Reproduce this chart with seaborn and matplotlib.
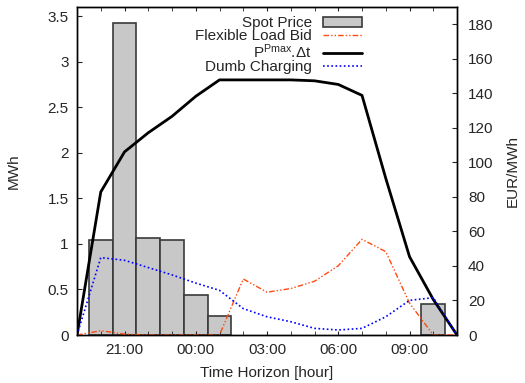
import matplotlib
matplotlib.use("Agg")
import matplotlib.pyplot as plt
import seaborn as sns
import pandas as pd
from matplotlib.patches import Patch
from matplotlib.lines import Line2D

# hours since 19:00
hours = list(range(17))
tick_pos = [2, 5, 8, 11, 14]
tick_labels = ["21:00", "00:00", "03:00", "06:00", "09:00"]

# spot price bars (EUR/MWh)
price_hours = [1, 2, 3, 4, 5, 6, 15]
spot_price = [54.8, 180.8, 56.2, 54.8, 23.3, 11.2, 18.0]

# MWh series
flex_bid = [0, 0.047, 0.01, 0, 0, 0, 0, 0.615, 0.47, 0.51, 0.59, 0.76, 1.05, 0.915, 0.35, 0, 0]
p_max = [0, 1.57, 2.01, 2.22, 2.40, 2.62, 2.80, 2.80, 2.80, 2.80, 2.79, 2.75, 2.63, 1.72, 0.86, 0.39, 0]
dumb = [0, 0.85, 0.82, 0.74, 0.66, 0.57, 0.49, 0.29, 0.20, 0.146, 0.073, 0.055, 0.073, 0.20, 0.38, 0.41, 0]

sns.set_style("ticks")
plt.rcParams['font.family'] = ['Liberation Sans', 'DejaVu Sans']
plt.rcParams['font.size'] = 11
plt.rcParams['mathtext.fontset'] = 'custom'
plt.rcParams['mathtext.rm'] = 'Liberation Sans'
plt.rcParams['mathtext.it'] = 'Liberation Sans'

fig = plt.figure(figsize=(5.25, 3.83), dpi=100)
ax = fig.add_axes([0.1467, 0.1253, 0.8705 - 0.1467, 0.9817 - 0.1253])
ax2 = ax.twinx()

bars = pd.DataFrame({'h': price_hours, 'price': spot_price})
sns.barplot(data=bars, x='h', y='price', native_scale=True, width=1.0,
            color='#c8c8c8', saturation=1, edgecolor='#3a3a3a', linewidth=1.2, ax=ax2)

sns.lineplot(x=hours, y=flex_bid, ax=ax, color='#ff4a10', lw=1.0,
             linestyle=(0, (4, 1.5, 1, 1.5, 1, 1.5)))
sns.lineplot(x=hours, y=p_max, ax=ax, color='black', lw=2.0)
sns.lineplot(x=hours, y=dumb, ax=ax, color='blue', lw=1.2, linestyle=(0, (1, 1.5)))

ax.set_zorder(ax2.get_zorder() + 1)
ax.patch.set_visible(False)

ax.set_xlim(0, 16)
ax.set_ylim(0, 3.6)
ax2.set_ylim(0, 190)
ax.set_yticks([0, 0.5, 1, 1.5, 2, 2.5, 3, 3.5])
ax.set_yticklabels(["0", "0.5", "1", "1.5", "2", "2.5", "3", "3.5"])
ax2.set_yticks(range(0, 181, 20))
ax.set_xticks(tick_pos)
ax.set_xticklabels(tick_labels)
ax.set_xticks(hours, minor=True)

ax.tick_params(axis='x', which='both', direction='in', top=True, length=3, pad=6)
ax.tick_params(axis='y', direction='in', right=False, length=3.5, pad=6)
ax2.tick_params(axis='y', direction='in', length=3.5, pad=8)
ax2.tick_params(axis='x', which='both', bottom=False, top=False)
for a in (ax, ax2):
    for s in a.spines.values():
        s.set_linewidth(1.0)
        s.set_color('black')

ax.set_xlabel("Time Horizon [hour]", labelpad=6)
ax.set_ylabel("MWh", labelpad=19)
ax2.set_ylabel("EUR/MWh", labelpad=9)
ax2.set_xlabel("")

handles = [
    Patch(facecolor='#c8c8c8', edgecolor='#3a3a3a', linewidth=1.2),
    Line2D([], [], color='#ff4a10', lw=1.0, linestyle=(0, (4, 1.5, 1, 1.5, 1, 1.5))),
    Line2D([], [], color='black', lw=2.0),
    Line2D([], [], color='blue', lw=1.2, linestyle=(0, (1, 1.5))),
]
labels = ["Spot Price", "Flexible Load Bid", r"P$^{\mathrm{Pmax}}$.Δt", "Dumb Charging"]
ax.legend(handles, labels, loc='upper right', bbox_to_anchor=(0.775, 1.0),
          frameon=False, markerfirst=False, handlelength=2.6, handleheight=0.6,
          handletextpad=0.7, labelspacing=-0.05, borderaxespad=0.2)

fig.savefig("out.png", dpi=100)
